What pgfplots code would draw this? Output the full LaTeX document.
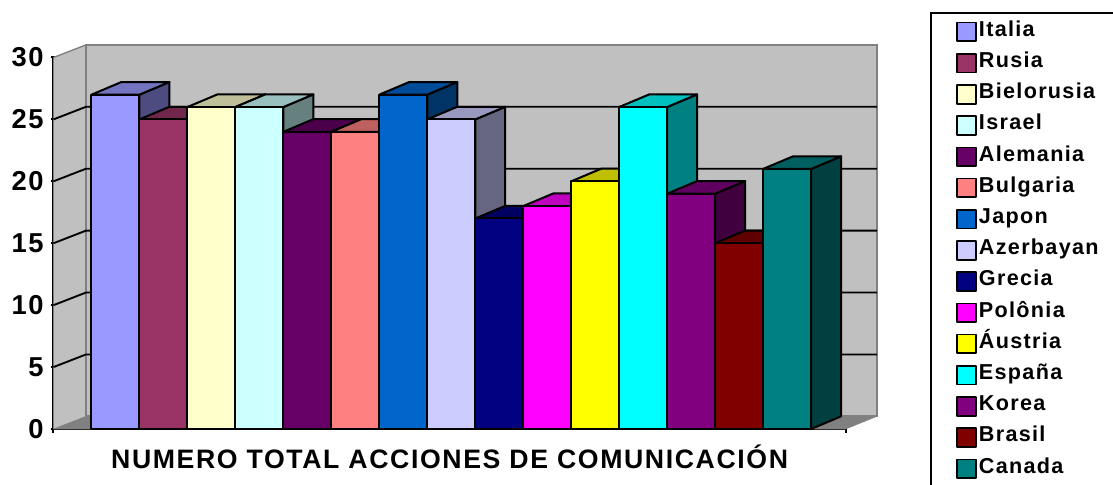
\documentclass[border=0pt]{standalone}
\usepackage{pgfplots}
\pgfplotsset{compat=1.18}
\usepackage{fontspec}
\setmainfont[LetterSpace=6]{Liberation Sans}
\definecolor{c1}{HTML}{9999FF}\definecolor{c2}{HTML}{993366}\definecolor{c3}{HTML}{FFFFCC}
\definecolor{c4}{HTML}{CCFFFF}\definecolor{c5}{HTML}{660066}\definecolor{c6}{HTML}{FF8080}
\definecolor{c7}{HTML}{0066CC}\definecolor{c8}{HTML}{CCCCFF}\definecolor{c9}{HTML}{000080}
\definecolor{c10}{HTML}{FF00FF}\definecolor{c11}{HTML}{FFFF00}\definecolor{c12}{HTML}{00FFFF}
\definecolor{c13}{HTML}{800080}\definecolor{c14}{HTML}{800000}\definecolor{c15}{HTML}{008080}
\newcommand\barbox[4]{%
  \pgfmathsetmacro\xa{#1-0.5}\pgfmathsetmacro\xb{#1+0.5}%
  \pgfmathsetmacro\xc{#1-0.5+0.625}\pgfmathsetmacro\xd{#1+0.5+0.625}%
  \pgfmathsetmacro\yt{#2+1.02}%
  \edef\temp{\noexpand\addplot[forget plot,draw=black,line width=1.5pt,line join=round,fill=#3!50!black]
    coordinates {(\xb,0) (\xd,1.02) (\xd,\yt) (\xb,#2) (\xb,0)};
    \noexpand\addplot[forget plot,draw=black,line width=1.5pt,line join=round,fill=#3!75!black]
    coordinates {(\xa,#2) (\xc,\yt) (\xd,\yt) (\xb,#2) (\xa,#2)};
    \noexpand\addplot[draw=black,line width=1.5pt,line join=round,fill=#3]
    coordinates {(\xa,0) (\xa,#2) (\xb,#2) (\xb,0) (\xa,0)};}\temp
  \addlegendentry{#4}}
\newcommand\gridl[1]{%
  \pgfmathsetmacro\yb{#1+1.02}%
  \edef\temp{\noexpand\addplot[forget plot,black,line width=1.4pt]
    coordinates {(-0.2918,#1) (0.386,\yb) (16.87,\yb)};}\temp}
\begin{document}
\begin{tikzpicture}[x=1pt,y=1pt]
\useasboundingbox (-40.125,-42) rectangle (794.625,321.75);
\begin{axis}[
  at={(0,0)},anchor=south west,
  scale only axis,width=594.15pt,height=278.625pt,
  xmin=-0.2918,xmax=16.222,ymin=0,ymax=30,
  clip=false,
  axis x line=bottom,axis y line=left,
  axis line style={-,black,line width=1.5pt},
  ytick={0,5,10,15,20,25,30},
  xtick={-0.2918,16.222},xticklabels={},
  tick style={black,line width=1.5pt},
  xtick style={/pgfplots/major tick length=6pt},
  ytick style={/pgfplots/major tick length=4pt},
  yticklabel style={font=\fontsize{20.5}{20.5}\selectfont\bfseries,/pgf/number format/assume math mode=true,xshift=-1.7pt},
  xlabel={NUMERO TOTAL ACCIONES DE COMUNICACIÓN},
  xlabel style={font=\fontsize{20}{20}\selectfont\bfseries,at={(axis description cs:0.5,0)},anchor=center,yshift=-21pt},
  legend style={at={(axis cs:18.53,33.5)},anchor=north west,draw=none,fill=none,
    inner sep=0pt,outer sep=0pt,row sep=0pt,
    font=\fontsize{16.2}{16.2}\selectfont\bfseries,
    nodes={inner sep=0pt,text height=16.6pt,text depth=6.8pt,anchor=base west}},
  legend cell align=left,
  legend image code/.code={\draw[#1,line width=1.3pt] (0pt,-3.75pt) rectangle (14pt,10.25pt);\path (15.5pt,0pt);},
]
% walls and floor
\addplot[forget plot,draw=none,fill={rgb,255:red,192;green,192;blue,192}] coordinates {(-0.2918,0) (0.386,1.02) (0.386,31.02) (-0.2918,30) (-0.2918,0)};
\addplot[forget plot,draw={rgb,255:red,128;green,128;blue,128},line width=1.5pt,fill={rgb,255:red,192;green,192;blue,192}] coordinates {(0.386,1.02) (0.386,31.02) (16.87,31.02) (16.87,1.02) (0.386,1.02)};
\addplot[forget plot,draw={rgb,255:red,128;green,128;blue,128},line width=1pt] coordinates {(-0.2918,30) (0.386,31.02)};
\addplot[forget plot,draw={rgb,255:red,128;green,128;blue,128},fill={rgb,255:red,128;green,128;blue,128}] coordinates {(-0.2918,0) (0.386,1.02) (16.87,1.02) (16.222,0) (-0.2918,0)};
\gridl{5}\gridl{10}\gridl{15}\gridl{20}\gridl{25}
% bars
\barbox{1}{27}{c1}{Italia}
\barbox{2}{25}{c2}{Rusia}
\barbox{3}{26}{c3}{Bielorusia}
\barbox{4}{26}{c4}{Israel}
\barbox{5}{24}{c5}{Alemania}
\barbox{6}{24}{c6}{Bulgaria}
\barbox{7}{27}{c7}{Japon}
\barbox{8}{25}{c8}{Azerbayan}
\barbox{9}{17}{c9}{Grecia}
\barbox{10}{18}{c10}{Polônia}
\barbox{11}{20}{c11}{Áustria}
\barbox{12}{26}{c12}{España}
\barbox{13}{19}{c13}{Korea}
\barbox{14}{15}{c14}{Brasil}
\barbox{15}{21}{c15}{Canada}
% legend frame
\addplot[forget plot,black,line width=1.5pt] coordinates {(18.0,-6) (18.0,33.63) (22,33.63)};
\end{axis}
\end{tikzpicture}
\end{document}
